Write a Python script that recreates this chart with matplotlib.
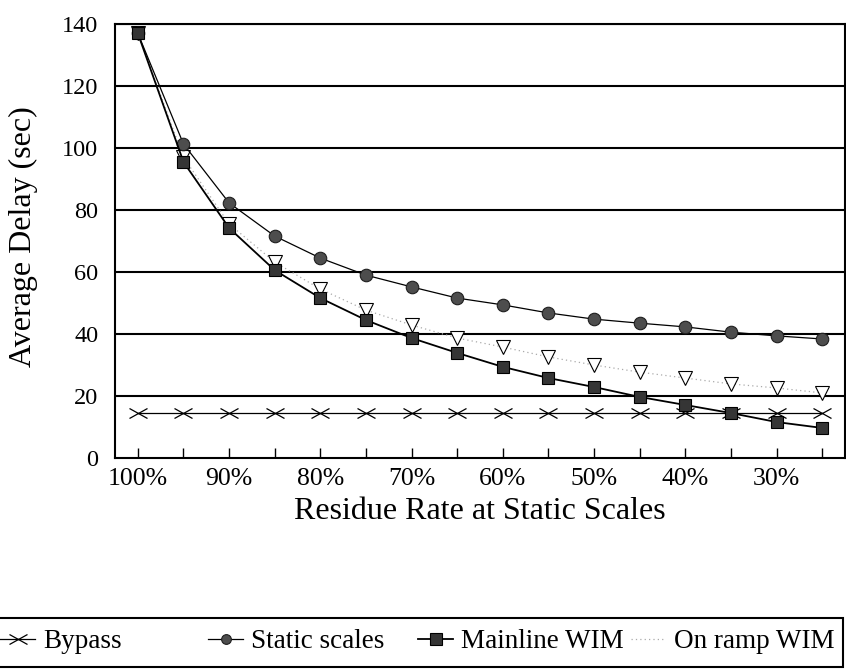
import matplotlib
matplotlib.use("Agg")
import matplotlib.pyplot as plt
from matplotlib.lines import Line2D
from matplotlib.markers import MarkerStyle
from matplotlib.patches import Rectangle
from matplotlib.transforms import Affine2D

plt.rcParams['font.family'] = ['Liberation Serif', 'DejaVu Serif']

# Residue rate at static scales (%), from 100% down to 25%
residue_rate = [100, 95, 90, 85, 80, 75, 70, 65, 60, 55, 50, 45, 40, 35, 30, 25]
tick_labels = ['100%', '', '90%', '', '80%', '', '70%', '', '60%', '', '50%', '',
               '40%', '', '30%', '']

bypass = [14.5] * 16
static_scales = [137, 101.3, 82.3, 71.6, 64.5, 59.0, 55.2, 51.6, 49.4, 46.8,
                 44.8, 43.5, 42.3, 40.6, 39.4, 38.4]
mainline_wim = [137, 95.5, 74.2, 60.6, 51.6, 44.5, 38.7, 33.9, 29.4, 25.8,
                22.9, 19.7, 17.1, 14.5, 11.6, 9.7]
on_ramp_wim = [137, 97.0, 75.5, 63.2, 54.5, 47.7, 42.9, 38.7, 35.8, 32.6,
               30.0, 27.7, 25.8, 23.9, 22.6, 21.0]

series_names = ['Bypass', 'Static scales', 'Mainline WIM', 'On ramp WIM']

fig = plt.figure(figsize=(8.46, 6.69), dpi=100)
ax = fig.add_axes([0.136, 0.3154, 0.8628, 0.6486])

idx = list(range(len(residue_rate)))

# wide, flat cross used for the bypass series
wide_x = MarkerStyle('x', transform=Affine2D().scale(1.7, 0.9))

bypass_style = dict(color='black', lw=0.9, marker=wide_x, mew=0.9)
static_style = dict(color='black', lw=0.9, marker='o', mfc='#4d4d4d', mec='#1e1e1e', mew=0.8)
mainline_style = dict(color='black', lw=1.3, marker='s', mfc='#353535', mec='black', mew=0.8)
onramp_style = dict(color='#aaaaaa', lw=0.9, ls=(0, (1, 2.5)))

for y in range(20, 141, 20):
    ax.axhline(y, color='black', lw=1.5, zorder=1)

ax.plot(idx, bypass, ms=8, zorder=3, **bypass_style)
ax.plot(idx, on_ramp_wim, marker='v', ms=10, mfc='white', mec='black', mew=0.8,
        zorder=4, **onramp_style)
ax.plot(idx, static_scales, ms=9, zorder=5, **static_style)
ax.plot(idx, mainline_wim, ms=9, zorder=6, **mainline_style)

ax.set_xlim(-0.5, len(idx) - 0.5)
ax.set_ylim(0, 140)
ax.set_yticks(range(0, 141, 20))
ax.set_xticks(idx)
ax.set_xticklabels(tick_labels)
ax.tick_params(axis='x', direction='in', length=7, width=1, labelsize=18.5, pad=7)
ax.tick_params(axis='y', length=0, labelsize=17.5, pad=12)

for s in ax.spines.values():
    s.set_color('black')
    s.set_linewidth(1.5)

ax.set_xlabel('Residue Rate at Static Scales', fontsize=23, labelpad=5)
ax.set_ylabel('Average Delay (sec)', fontsize=23)
ax.yaxis.set_label_coords(-0.106, 0.51)

# legend: one entry per fixed column inside a shared frame
handles = [
    Line2D([], [], ms=8, **bypass_style),
    Line2D([], [], ms=7, **static_style),
    Line2D([], [], ms=8, **mainline_style),
    Line2D([], [], **onramp_style),
]
col_x = [0.0, 0.2459, 0.4941, 0.7459]
for h, name, x0 in zip(handles, series_names, col_x):
    fig.legend([h], [name], loc='center left', bbox_to_anchor=(x0, 0.0404),
               fontsize=19.5, frameon=False, handlelength=1.3,
               handletextpad=0.3, borderaxespad=0.0, borderpad=0.0)

fig.add_artist(Rectangle((-0.01, 0.003), 1.0065, 0.0732, transform=fig.transFigure,
                         fill=False, edgecolor='black', lw=1.5))

fig.savefig('out.png', dpi=100)
